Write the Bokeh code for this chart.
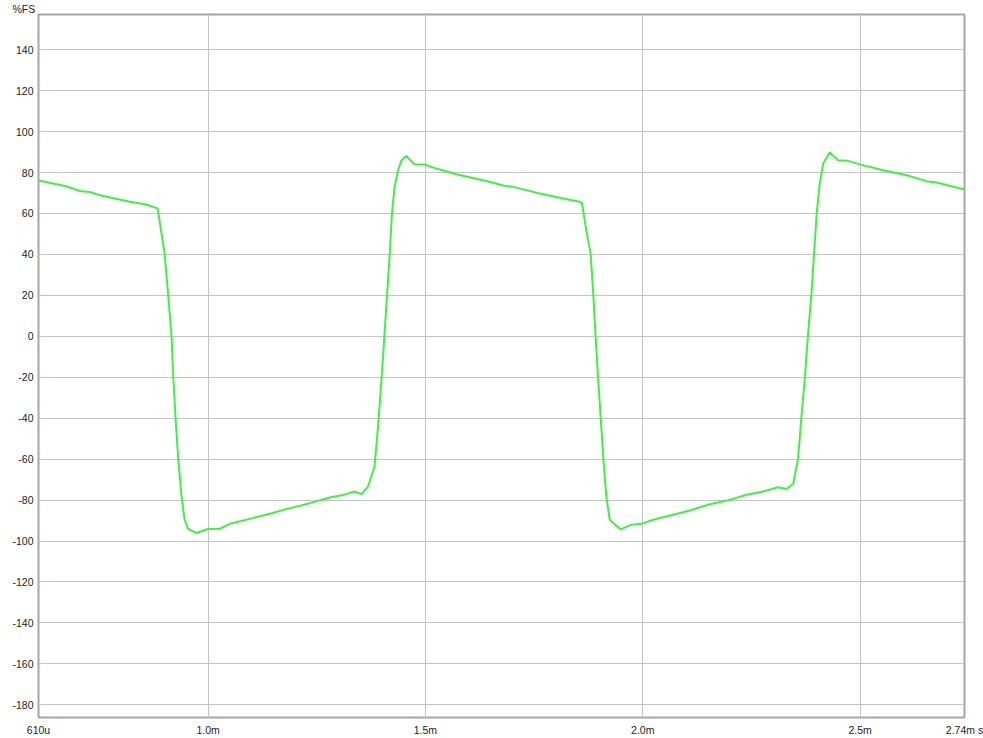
from bokeh.plotting import figure
from bokeh.models import Range1d, FixedTicker
from bokeh.embed import file_html
from bokeh.resources import INLINE

# ---- data (time in ms, level in %FS) ----
time_ms = [0.610, 0.674, 0.705, 0.728, 0.751, 0.820, 0.858, 0.884, 0.900, 0.908,
           0.916, 0.920, 0.925, 0.931, 0.939, 0.946, 0.954, 0.973, 1.000, 1.027,
           1.050, 1.103, 1.142, 1.180, 1.234, 1.280, 1.318, 1.337, 1.353, 1.368,
           1.383, 1.391, 1.399, 1.406, 1.412, 1.418, 1.423, 1.429, 1.437, 1.445,
           1.456, 1.475, 1.498, 1.518, 1.533, 1.571, 1.640, 1.679, 1.702, 1.763,
           1.817, 1.855, 1.860, 1.870, 1.880, 1.886, 1.891, 1.897, 1.903, 1.909,
           1.916, 1.924, 1.928, 1.949, 1.974, 1.997, 2.024, 2.070, 2.108, 2.154,
           2.200, 2.239, 2.277, 2.311, 2.331, 2.346, 2.357, 2.365, 2.373, 2.380,
           2.388, 2.394, 2.400, 2.407, 2.415, 2.430, 2.449, 2.472, 2.499, 2.553,
           2.607, 2.653, 2.676, 2.740]
level_pct = [76.1, 73.3, 71.0, 70.5, 68.9, 65.7, 64.4, 62.5, 40.6, 21.0,
             0.0, -19.7, -39.2, -58.7, -78.2, -89.6, -94.0, -96.1, -94.1, -94.0,
             -91.6, -88.8, -86.7, -84.4, -81.5, -78.7, -77.1, -75.8, -77.1, -73.4,
             -63.6, -44.1, -21.3, 1.5, 21.0, 40.5, 60.0, 73.0, 81.1, 86.0,
             88.1, 83.9, 83.9, 82.4, 81.5, 79.2, 75.9, 73.7, 73.0, 69.8,
             67.3, 65.7, 65.2, 51.9, 40.5, 21.0, 1.5, -19.7, -39.2, -58.7,
             -78.2, -89.6, -90.4, -94.3, -92.0, -91.6, -89.6, -87.2, -85.1, -82.0,
             -79.9, -77.4, -75.8, -73.7, -74.6, -72.0, -60.0, -39.2, -19.7, 0.6,
             21.0, 40.5, 60.0, 74.6, 84.4, 89.8, 86.0, 85.7, 84.0, 81.1,
             78.7, 75.8, 75.1, 71.7]

x_ticks = [0.61, 1.0, 1.5, 2.0, 2.5, 2.74]
x_tick_labels = ["610u", "1.0m", "1.5m", "2.0m", "2.5m", "2.74m s"]
y_ticks = [-180, -160, -140, -120, -100, -80, -60, -40, -20, 0,
           20, 40, 60, 80, 100, 120, 140]
y_unit = "%FS"

X_MIN, X_MAX = 0.61, 2.74
Y_MIN, Y_MAX = -186.2, 157.2

FONT = "Liberation Sans"
FONT_SIZE = "10.5px"
LABEL_COLOR = "#222222"
GRID_COLOR = "#c4c4c4"

p = figure(width=983, height=738, output_backend="svg", toolbar_location=None,
           x_range=Range1d(X_MIN, X_MAX), y_range=Range1d(Y_MIN, Y_MAX),
           min_border_left=38, min_border_right=19, min_border_top=14,
           min_border_bottom=21)
p.background_fill_color = "white"
p.border_fill_color = "white"
p.outline_line_color = "#a6a6a6"
p.outline_line_width = 2

# unit label at the top-left, as a left-aligned title
p.title.text = y_unit
p.title.align = "left"
p.title.offset = -26
p.title.standoff = 0
p.title.text_font = FONT
p.title.text_font_size = FONT_SIZE
p.title.text_font_style = "normal"
p.title.text_color = LABEL_COLOR

# axes
p.xaxis.ticker = FixedTicker(ticks=x_ticks)
p.xaxis.major_label_overrides = {t: lab for t, lab in zip(x_ticks, x_tick_labels)}
p.yaxis.ticker = FixedTicker(ticks=y_ticks)
p.yaxis.major_label_overrides = {t: str(t) for t in y_ticks}

for ax in (p.xaxis[0], p.yaxis[0]):
    ax.axis_line_color = None
    ax.major_tick_line_color = None
    ax.minor_tick_line_color = None
    ax.major_tick_out = 0
    ax.major_tick_in = 0
    ax.minor_tick_out = 0
    ax.minor_tick_in = 0
    ax.major_label_text_font = FONT
    ax.major_label_text_font_size = FONT_SIZE
    ax.major_label_text_color = LABEL_COLOR
p.xaxis.major_label_standoff = 6
p.yaxis.major_label_standoff = 5

p.xgrid.ticker = FixedTicker(ticks=x_ticks)
p.ygrid.ticker = FixedTicker(ticks=y_ticks)
p.grid.grid_line_color = GRID_COLOR
p.grid.grid_line_width = 1

# waveform
p.line(time_ms, level_pct, line_color="#44ee44", line_width=2,
       line_join="round")

open("out.html", "w").write(file_html(p, INLINE))
